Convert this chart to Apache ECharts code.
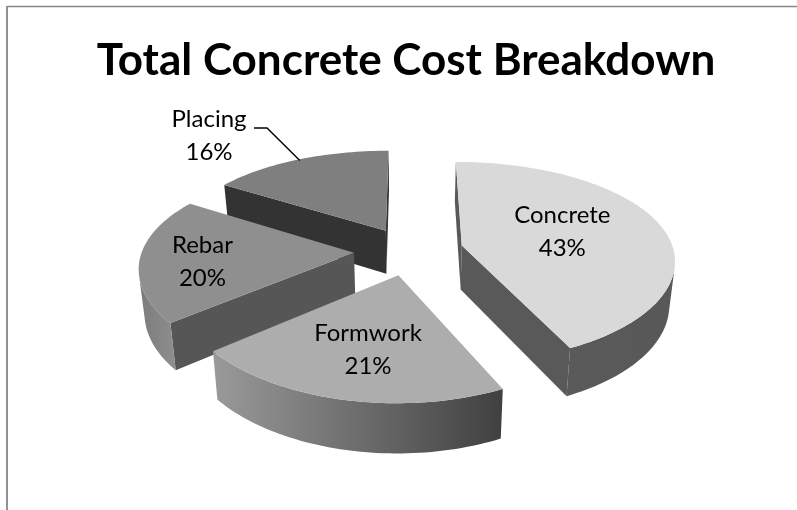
<!DOCTYPE html>
<html>
<head>
<meta charset="utf-8">
<style>html,body{margin:0;padding:0;background:#fff}#chart{width:797px;height:510px}</style>
<script src="https://cdn.jsdelivr.net/npm/echarts@6/dist/echarts.min.js"></script>
</head>
<body>
<div id="chart"></div>
<script>
// Cost shares, in percent
const categories = ['Concrete', 'Formwork', 'Rebar', 'Placing'];
const shares = [43, 21, 20, 16];
const titleText = 'Total Concrete Cost Breakdown';

// Tilted-disc projection: plane units are pie radii, v grows toward the viewer
const view = { cx: 410, cy: 251, scaleX: 212, scaleY: 98.7, perspX: 0.13, perspY: 0.16, depth: 44, perspZ: 0.1, taper: 0.022 };
// How far each slice is pulled out of the disc
const explodeBy = [0.252, 0.243, 0.264, 0.243];

// Shading per slice
const topFill = ['#d9d9d9', '#adadad', '#8f8f8f', '#7f7f7f'];
const radialFill = ['#595959', '#4a4a4a', '#565656', '#333333'];
const rimStops = [
  ['#5a5a5a', '#585858'],
  ['#9a9a9a', '#404040'],
  ['#7c7c7c', '#8e8e8e'],
  ['#6a6a6a', '#6a6a6a']
];
// Back-to-front order keeps nearer slices painted over farther ones
const paintOrder = [3, 2, 0, 1];
// Label anchor along each slice's bisector, with a small screen nudge
const labelFrac = [0.51, 0.64, 0.70, 1.0];
const labelNudge = [[-2, -3], [4, 0], [-2, 5], [0, 0]];
const labelFont = '24px Lato';

function upperPt(u, v) {
  return [
    view.cx + view.scaleX * u / (1 - view.perspX * v),
    view.cy + view.scaleY * v / (1 - view.perspY * v)
  ];
}
function lowerPt(u, v) {
  const p = upperPt(u, v);
  return [
    view.cx + (p[0] - view.cx) * (1 - view.taper),
    p[1] + view.depth / (1 - view.perspZ * v)
  ];
}

const total = shares.reduce((a, b) => a + b, 0);
const slices = [];
{
  let run = 0;
  shares.forEach((s, i) => {
    const a0 = run / total * 2 * Math.PI;
    run += s;
    const a1 = run / total * 2 * Math.PI;
    const mid = (a0 + a1) / 2;
    slices.push({
      a0, a1, mid,
      ou: explodeBy[i] * Math.sin(mid),
      ov: -explodeBy[i] * Math.cos(mid)
    });
  });
}

function sliceWorld(sl) {
  const pts = [[sl.ou, sl.ov]];
  const n = Math.max(8, Math.round((sl.a1 - sl.a0) * 40));
  for (let k = 0; k <= n; k++) {
    const t = sl.a0 + (sl.a1 - sl.a0) * k / n;
    pts.push([sl.ou + Math.sin(t), sl.ov - Math.cos(t)]);
  }
  return pts;
}

function facesViewer(a, b, aBelow) {
  return (b[0] - a[0]) * (aBelow[1] - a[1]) - (b[1] - a[1]) * (aBelow[0] - a[0]) < 0;
}

function renderSlice(params, api) {
  const i = api.value(0);
  const sl = slices[i];
  const world = sliceWorld(sl);
  const children = [];
  const tops = world.map(p => upperPt(p[0], p[1]));
  const lows = world.map(p => lowerPt(p[0], p[1]));
  const last = world.length - 1;

  // Straight cut faces
  [[0, 1], [last, 0]].forEach(pair => {
    const a = pair[0], b = pair[1];
    if (facesViewer(tops[a], tops[b], lows[a])) {
      children.push({
        type: 'polygon',
        shape: { points: [tops[a], tops[b], lows[b], lows[a]] },
        style: { fill: radialFill[i] }
      });
    }
  });

  // Rim: the run of arc segments turned toward the viewer
  const upper = [], lower = [];
  for (let k = 1; k < last; k++) {
    if (facesViewer(tops[k], tops[k + 1], lows[k])) {
      if (!upper.length) { upper.push(tops[k]); lower.push(lows[k]); }
      upper.push(tops[k + 1]);
      lower.push(lows[k + 1]);
    }
  }
  if (upper.length) {
    const xs = upper.concat(lower).map(p => p[0]);
    const x0 = Math.min.apply(null, xs), x1 = Math.max.apply(null, xs);
    children.push({
      type: 'polygon',
      shape: { points: upper.concat(lower.slice().reverse()) },
      style: {
        fill: new echarts.graphic.LinearGradient(x0, 0, x1, 0, [
          { offset: 0, color: rimStops[i][0] },
          { offset: 1, color: rimStops[i][1] }
        ], true)
      }
    });
  }

  // Upper face
  children.push({ type: 'polygon', shape: { points: tops }, style: { fill: topFill[i] } });
  return { type: 'group', children };
}

function renderLabel(params, api) {
  const i = api.value(0);
  const sl = slices[i];
  const text = categories[i] + '\n' + shares[i] + '%';
  const children = [];
  if (i === 3) {
    // Placing sits outside its slice and is tied to the rim by a leader line
    const rim = upperPt(sl.ou + Math.sin(sl.mid), sl.ov - Math.cos(sl.mid));
    children.push({
      type: 'polyline',
      shape: { points: [[254, 128], [267, 128], [rim[0] + 1, rim[1] + 1]] },
      style: { stroke: '#000', lineWidth: 1.4, fill: null }
    });
    children.push({
      type: 'text',
      style: { x: 209, y: 135.5, text, textAlign: 'center', textVerticalAlign: 'middle', font: labelFont, lineHeight: 33, fill: '#000' }
    });
  } else {
    const p = upperPt(sl.ou + labelFrac[i] * Math.sin(sl.mid), sl.ov - labelFrac[i] * Math.cos(sl.mid));
    children.push({
      type: 'text',
      style: {
        x: p[0] + labelNudge[i][0], y: p[1] + labelNudge[i][1], text,
        textAlign: 'center', textVerticalAlign: 'middle', font: labelFont, lineHeight: 33, fill: '#000'
      }
    });
  }
  return { type: 'group', children };
}

const chart = echarts.init(document.getElementById('chart'), null, { renderer: 'canvas' });
chart.setOption({
  animation: false,
  backgroundColor: '#fff',
  title: {
    text: titleText,
    left: 401,
    textAlign: 'center',
    top: 34,
    textStyle: { fontFamily: 'Lato', fontWeight: 'bold', fontSize: 44, color: '#000' }
  },
  graphic: [
    { type: 'line', shape: { x1: 7, y1: 6.5, x2: 797, y2: 6.5 }, style: { stroke: '#868686', lineWidth: 1.4 } },
    { type: 'line', shape: { x1: 7, y1: 6, x2: 7, y2: 510 }, style: { stroke: '#868686', lineWidth: 1.8 } }
  ],
  series: [
    {
      type: 'custom',
      coordinateSystem: 'none',
      renderItem: renderSlice,
      data: paintOrder.map(i => [i, shares[i]]),
      z: 2
    },
    {
      type: 'custom',
      coordinateSystem: 'none',
      renderItem: renderLabel,
      data: paintOrder.map(i => [i, shares[i]]),
      z: 3
    }
  ]
});
</script>
</body>
</html>
